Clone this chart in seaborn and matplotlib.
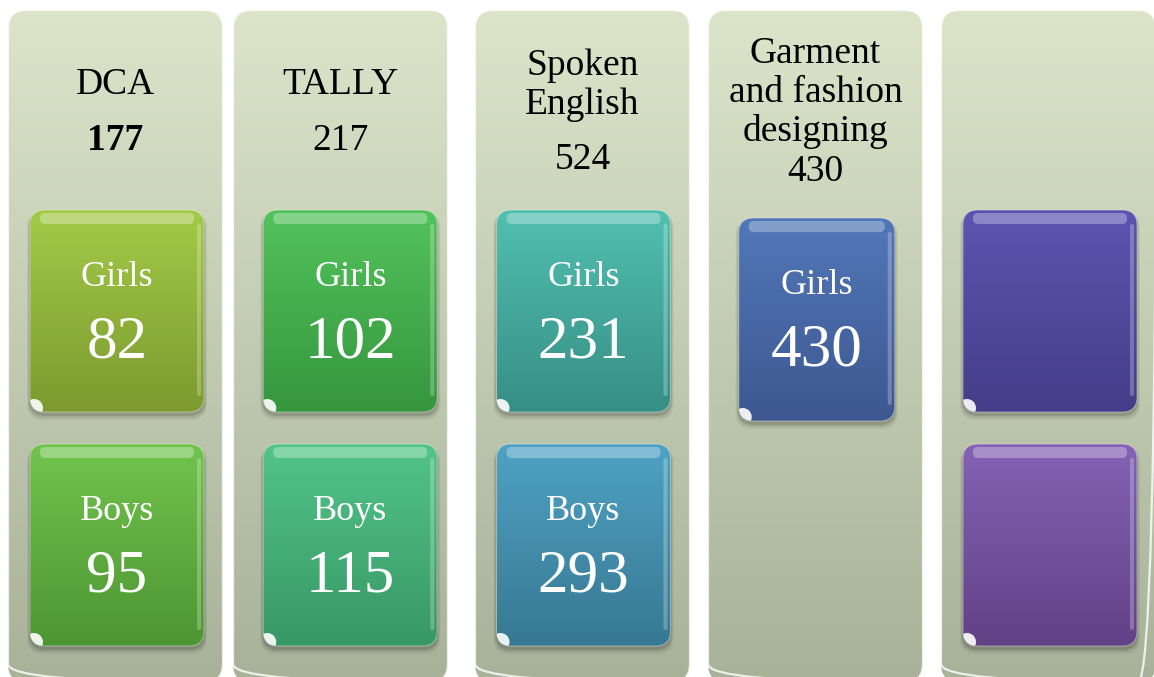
import matplotlib
matplotlib.use("Agg")
import matplotlib.pyplot as plt
from matplotlib.patches import FancyBboxPatch, Circle
import numpy as np
import seaborn as sns

# course data
courses = ["DCA", "TALLY", "Spoken\nEnglish", "Garment\nand fashion\ndesigning", ""]
totals = ["177", "217", "524", "430", ""]
girls = ["82", "102", "231", "430", ""]
boys = ["95", "115", "293", None, ""]

# colours (top, bottom) of each box
col_bg = ("#dce5ca", "#a8b299")
girls_colors = [("#a3ca48", "#7c9a2f"), ("#52c35c", "#36963e"), ("#52c0b1", "#368e84"),
                ("#5277b8", "#3d5891"), ("#5c55b0", "#453d88")]
boys_colors = [("#72c44e", "#4d9532"), ("#53c488", "#379866"), ("#4fa2c4", "#377892"),
               None, ("#8462b5", "#624186")]

sns.set_theme(style="white")
plt.rcParams["font.family"] = ["Liberation Serif", "DejaVu Serif"]

W, H = 1154, 677
fig = plt.figure(figsize=(W / 100, H / 100), dpi=100)
ax = fig.add_axes([0, 0, 1, 1])
ax.set_xlim(0, W)
ax.set_ylim(H, 0)
ax.axis("off")

col_left = [8, 233, 475, 708, 941]
col_w = 215
grad = np.linspace(0, 1, 256).reshape(-1, 1)


def gradient_box(x, y, w, h, colors, r, z):
    patch = FancyBboxPatch((x, y), w, h, boxstyle=f"round,pad=0,rounding_size={r}",
                           facecolor="none", edgecolor="none", zorder=z)
    ax.add_patch(patch)
    cmap = sns.blend_palette(list(colors), as_cmap=True)
    im = ax.imshow(grad, cmap=cmap, extent=(x, x + w, y + h, y), origin="upper",
                   aspect="auto", zorder=z, interpolation="bilinear")
    im.set_clip_path(patch)
    return patch


def inner_box(cx, y, w, h, colors, label, value):
    x = cx - w / 2
    # soft shadow
    for k, a in [(6, 0.05), (4, 0.08), (2, 0.12)]:
        ax.add_patch(FancyBboxPatch((x - k / 2, y + 2), w + k, h + k,
                                    boxstyle="round,pad=0,rounding_size=16",
                                    facecolor="black", edgecolor="none", alpha=a, zorder=3))
    body = gradient_box(x, y, w, h, colors, 15, 4)
    # glossy highlights
    ax.add_patch(FancyBboxPatch((x + 10, y + 3), w - 20, 11,
                                boxstyle="round,pad=0,rounding_size=5",
                                facecolor="white", edgecolor="none", alpha=0.3, zorder=5))
    ax.add_patch(FancyBboxPatch((x + w - 7, y + 14), 4, h - 30,
                                boxstyle="round,pad=0,rounding_size=2",
                                facecolor="white", edgecolor="none", alpha=0.25, zorder=5))
    ax.add_patch(FancyBboxPatch((x, y), w, h, boxstyle="round,pad=0,rounding_size=15",
                                facecolor="none", edgecolor="white", linewidth=0.8,
                                alpha=0.35, zorder=5))
    spot = Circle((x + 4, y + h - 4), 9, facecolor="white", edgecolor="none",
                  alpha=0.9, zorder=5)
    ax.add_patch(spot)
    spot.set_clip_path(body)
    if label:
        ax.text(cx, y + 76, label, ha="center", va="baseline", color="white",
                fontsize=26, zorder=6)
        ax.text(cx, y + 148, value, ha="center", va="baseline", color="white",
                fontsize=44, zorder=6)


for i, name in enumerate(courses):
    x0 = col_left[i]
    gradient_box(x0, 10, col_w, 672, col_bg, 18, 1)
    ax.add_patch(FancyBboxPatch((x0, 10), col_w, 672, boxstyle="round,pad=0,rounding_size=18",
                                facecolor="none", edgecolor="white", linewidth=1.6,
                                alpha=0.8, zorder=2))

    # header text block centred above the boxes
    lines = name.split("\n") if name else []
    if lines:
        gap = 55 if len(lines) < 3 else 40
        b0 = (244 - 39 * (len(lines) - 1) - gap) / 2
        for j, line in enumerate(lines):
            ax.text(x0 + col_w / 2, b0 + 39 * j, line, ha="center", va="baseline",
                    color="black", fontsize=27, zorder=6)
        ax.text(x0 + col_w / 2, b0 + 39 * (len(lines) - 1) + gap, totals[i],
                ha="center", va="baseline", color="black", fontsize=27,
                fontweight="bold" if i == 0 else "normal", zorder=6)

    # the coloured boxes sit on an even grid
    cx = 117 + 233.25 * i
    if boys[i] is None:
        inner_box(cx, 218, 156, 203, girls_colors[i], "Girls", girls[i])
    else:
        lab_g = "Girls" if girls[i] else ""
        lab_b = "Boys" if boys[i] else ""
        inner_box(cx, 210, 174, 202, girls_colors[i], lab_g, girls[i])
        inner_box(cx, 444, 174, 202, boys_colors[i], lab_b, boys[i])

fig.savefig("out.png", dpi=100, facecolor="white")
